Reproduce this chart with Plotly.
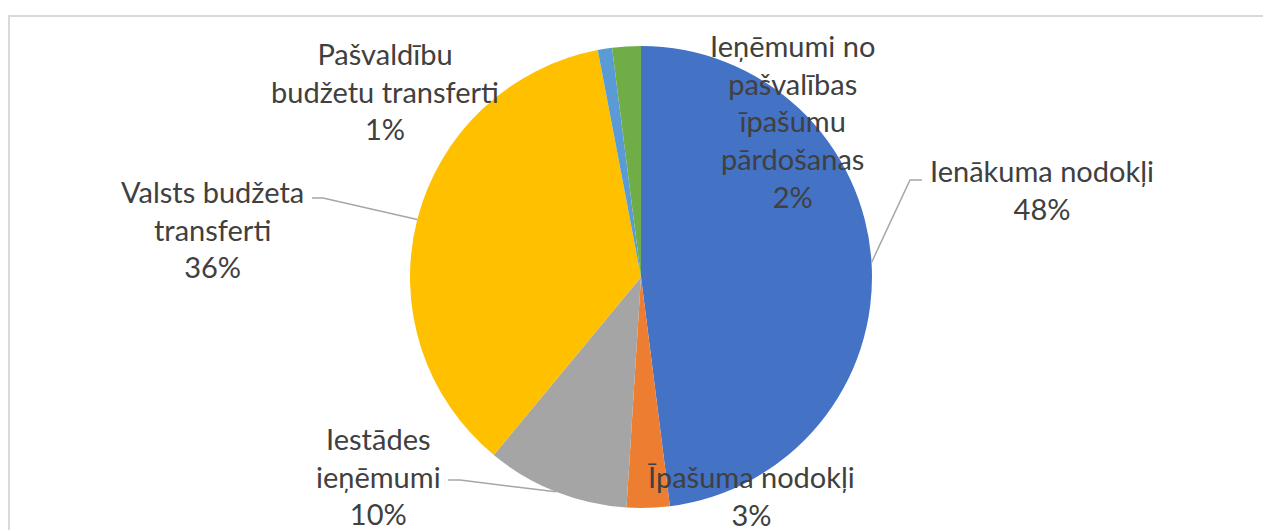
import math
import plotly.graph_objects as go

# ---- data ----
categories = [
    "Ienākuma nodokļi",
    "Īpašuma nodokļi",
    "Iestādes ieņēmumi",
    "Valsts budžeta transferti",
    "Pašvaldību budžetu transferti",
    "Ieņēmumi no pašvalības īpašumu pārdošanas",
]
values = [48, 3, 10, 36, 1, 2]
label_lines = [
    ["Ienākuma nodokļi"],
    ["Īpašuma nodokļi"],
    ["Iestādes", "ieņēmumi"],
    ["Valsts budžeta", "transferti"],
    ["Pašvaldību", "budžetu transferti"],
    ["Ieņēmumi no", "pašvalības", "īpašumu", "pārdošanas"],
]
colors = ["#4472C4", "#ED7D31", "#A5A5A5", "#FFC000", "#5B9BD5", "#70AD47"]

# ---- layout (pixels) ----
W, H = 1263, 530
CX, CY, R = 641, 277, 231
# label centres (px)
label_pos = [(1042, 189), (752, 495), (378, 476), (212, 229), (385, 91), (792, 121)]
# leader line elbows (px) : (label side point, elbow point); None = no leader
leaders = [((922, 180), (910, 180)), None, ((448, 480), (460, 480)),
           ((312, 198), (323, 198)), None, None]

def px(x):
    return x / W

def py(y):
    return 1 - y / H

fig = go.Figure()
fig.add_trace(go.Pie(
    labels=categories,
    values=values,
    sort=False,
    direction="clockwise",
    rotation=0,
    marker=dict(colors=colors, line=dict(width=0)),
    textinfo="none",
    hoverinfo="label+percent",
    showlegend=False,
    domain=dict(x=[px(CX - R), px(CX + R)], y=[py(CY + R), py(CY - R)]),
))

total = sum(values)
cum = 0
annotations = []
shapes = []
for i, v in enumerate(values):
    mid = (cum + v / 2) / total * 2 * math.pi
    cum += v
    pct = round(v / total * 100)
    text = "<br>".join(label_lines[i] + [f"{pct}%"])
    lx, ly = label_pos[i]
    annotations.append(dict(
        x=px(lx), y=py(ly), xref="paper", yref="paper",
        text=text, showarrow=False, xanchor="center", yanchor="middle",
        align="center", font=dict(family="Lato, Calibri, sans-serif", size=29, color="#404040"),
    ))
    if leaders[i] is not None:
        (ax, ay), (ex, ey) = leaders[i]
        tx = CX + R * math.sin(mid)
        ty = CY - R * math.cos(mid)
        path = f"M {px(ax)},{py(ay)} L {px(ex)},{py(ey)} L {px(tx)},{py(ty)}"
        shapes.append(dict(type="path", xref="paper", yref="paper", path=path,
                           line=dict(color="#A6A6A6", width=1.5)))

# chart frame
shapes.append(dict(type="rect", xref="paper", yref="paper",
                   x0=px(9), x1=px(W + 20), y0=py(H + 20), y1=py(16),
                   line=dict(color="#D9D9D9", width=2), fillcolor="rgba(0,0,0,0)", layer="below"))

fig.update_layout(
    width=W, height=H,
    margin=dict(l=0, r=0, t=0, b=0),
    paper_bgcolor="white", plot_bgcolor="white",
    annotations=annotations, shapes=shapes,
)
fig.write_html("out.html", config={"displayModeBar": False},
               post_script="document.body.style.margin='0';document.body.style.overflow='hidden';")
